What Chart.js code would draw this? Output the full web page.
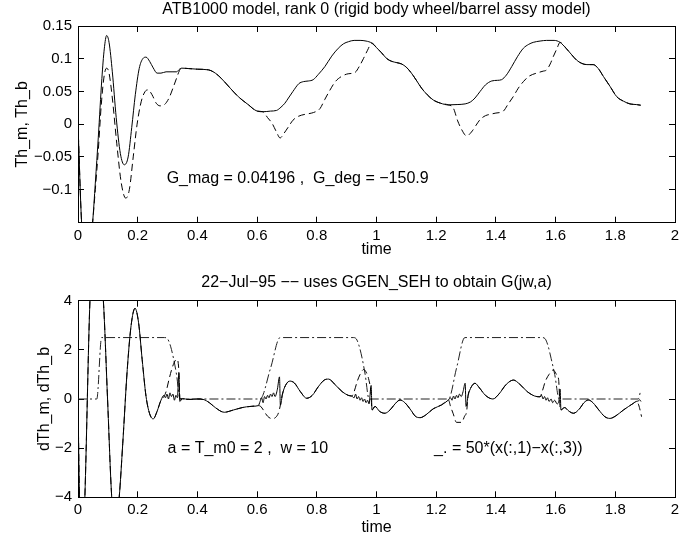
<!DOCTYPE html>
<html><head><meta charset="utf-8">
<script src="https://cdn.jsdelivr.net/npm/chart.js@4.4.0/dist/chart.umd.min.js"></script>
<style>
html,body{margin:0;padding:0;background:#fff;}
#wrap{position:relative;width:699px;height:539px;background:#fff;overflow:hidden;}
.c{position:absolute;left:0;width:699px;}
canvas{display:block;}
</style></head><body>
<div id="wrap">
<div class="c" style="top:0;height:268px"><canvas id="c1" width="699" height="268" style="width:699px;height:268px"></canvas></div>
<div class="c" style="top:268px;height:271px"><canvas id="c2" width="699" height="271" style="width:699px;height:271px"></canvas></div>
</div>
<script>
// ---------- Top panel: Th_m (solid), Th_b (dashed) ----------
const tThm = [0,0.012,0.025,0.038,0.049,0.058,0.068,0.08,0.088,0.096,
  0.104,0.115,0.128,0.142,0.155,0.168,0.18,0.192,0.205,0.217,
  0.228,0.24,0.252,0.265,0.278,0.295,0.315,0.33,0.34,0.347,
  0.37,0.4,0.437,0.46,0.48,0.51,0.537,0.57,0.6,0.62,
  0.645,0.665,0.68,0.693,0.705,0.72,0.74,0.755,0.772,0.788,
  0.805,0.827,0.85,0.872,0.89,0.906,0.925,0.945,0.965,0.984,
  1.0,1.017,1.035,1.051,1.068,1.084,1.1,1.117,1.135,1.151,
  1.17,1.19,1.215,1.24,1.27,1.297,1.315,1.33,1.347,1.365,
  1.386,1.405,1.419,1.435,1.453,1.472,1.492,1.51,1.525,1.548,
  1.57,1.595,1.615,1.635,1.654,1.67,1.687,1.705,1.726,1.743,
  1.76,1.782,1.805,1.828,1.849,1.87,1.885];
const Th_m = [0,-0.15,-0.21,-0.2,-0.15,-0.09,-0.02,0.07,0.115,0.1355,
  0.125,0.08,0.01,-0.045,-0.062,-0.05,-0.005,0.045,0.085,0.1,
  0.1024,0.096,0.086,0.078,0.078,0.08,0.08,0.08,0.084,0.0856,
  0.085,0.084,0.083,0.078,0.07,0.055,0.042,0.03,0.02,0.019,
  0.02,0.021,0.026,0.032,0.04,0.05,0.062,0.065,0.066,0.068,
  0.076,0.088,0.104,0.116,0.123,0.126,0.128,0.128,0.127,0.124,
  0.117,0.109,0.1,0.096,0.094,0.092,0.087,0.078,0.066,0.055,
  0.045,0.037,0.032,0.0295,0.03,0.031,0.034,0.04,0.05,0.06,
  0.066,0.067,0.068,0.075,0.088,0.103,0.116,0.122,0.125,0.127,
  0.128,0.128,0.125,0.116,0.106,0.098,0.093,0.091,0.091,0.085,
  0.073,0.058,0.042,0.035,0.031,0.03,0.029];

const tThb = [0,0.012,0.025,0.038,0.049,0.058,0.068,0.078,0.088,0.096,
  0.104,0.115,0.13,0.145,0.16,0.172,0.185,0.198,0.212,0.225,
  0.235,0.248,0.262,0.275,0.29,0.305,0.318,0.33,0.34,0.347,
  0.37,0.4,0.437,0.46,0.48,0.51,0.537,0.57,0.6,0.62,
  0.635,0.65,0.665,0.677,0.69,0.705,0.72,0.738,0.76,0.783,
  0.8,0.811,0.827,0.844,0.862,0.883,0.905,0.928,0.942,0.956,
  0.97,0.984,1.0,1.017,1.035,1.051,1.068,1.084,1.1,1.117,
  1.135,1.151,1.17,1.19,1.215,1.24,1.257,1.272,1.285,1.302,
  1.318,1.333,1.347,1.365,1.38,1.4,1.425,1.44,1.458,1.475,
  1.492,1.51,1.536,1.558,1.57,1.582,1.592,1.604,1.615,1.635,
  1.654,1.67,1.687,1.705,1.726,1.743,1.76,1.782,1.805,1.828,
  1.849,1.87,1.885];
const Th_b = [0,-0.15,-0.21,-0.2,-0.15,-0.1,-0.04,0.03,0.075,0.0856,
  0.078,0.04,-0.03,-0.09,-0.113,-0.1,-0.05,0.0,0.035,0.05,
  0.0524,0.045,0.032,0.028,0.03,0.04,0.055,0.07,0.082,0.0856,
  0.085,0.084,0.083,0.078,0.07,0.055,0.042,0.03,0.02,0.019,
  0.01,0.0015,-0.012,-0.021,-0.014,-0.004,0.006,0.012,0.015,0.017,
  0.02,0.024,0.038,0.052,0.065,0.073,0.077,0.079,0.088,0.1,
  0.113,0.124,0.117,0.109,0.1,0.096,0.094,0.092,0.087,0.078,
  0.066,0.055,0.045,0.037,0.032,0.0295,0.025,0.005,-0.008,-0.018,
  -0.012,-0.002,0.007,0.013,0.015,0.017,0.02,0.03,0.042,0.055,
  0.065,0.073,0.078,0.081,0.083,0.092,0.103,0.115,0.125,0.116,
  0.106,0.098,0.093,0.091,0.091,0.085,0.073,0.058,0.042,0.035,
  0.031,0.03,0.029];

// ---------- Bottom panel: dTh_m (solid), dTh_b (dashed), 50*(x1-x3) (dash-dot) ----------
const tdThm = [0,0.005,0.012,0.018,0.023,0.04,0.05,0.068,0.085,0.099,
  0.113,0.125,0.138,0.15,0.165,0.178,0.191,0.203,0.215,0.228,
  0.24,0.252,0.265,0.278,0.288,0.293,0.298,0.303,0.308,0.313,
  0.318,0.323,0.328,0.333,0.338,0.341,0.35,0.37,0.4,0.42,
  0.44,0.46,0.49,0.52,0.55,0.58,0.604,0.61,0.615,0.62,
  0.625,0.63,0.635,0.64,0.645,0.65,0.655,0.66,0.668,0.675,
  0.678,0.685,0.695,0.71,0.725,0.745,0.766,0.785,0.805,0.825,
  0.84,0.86,0.885,0.905,0.917,0.925,0.93,0.935,0.94,0.945,
  0.95,0.955,0.96,0.965,0.97,0.975,0.982,0.985,0.995,1.01,
  1.028,1.045,1.062,1.079,1.095,1.115,1.13,1.146,1.165,1.19,
  1.218,1.241,1.248,1.253,1.258,1.263,1.268,1.273,1.278,1.284,
  1.29,1.297,1.3,1.307,1.318,1.33,1.345,1.365,1.39,1.41,
  1.435,1.459,1.48,1.505,1.53,1.548,1.553,1.558,1.563,1.568,
  1.573,1.578,1.585,1.59,1.597,1.605,1.612,1.615,1.618,1.63,
  1.645,1.66,1.68,1.695,1.71,1.725,1.745,1.765,1.782,1.8,
  1.827,1.845,1.86,1.87,1.877,1.882,1.886];
const dTh_m = [0,-4,-5.5,-5.5,-4,4,5.8,6,4,0,
  -4,-5.2,-4,-1.8,1.2,3.0,3.69,3.1,1.6,0.1,
  -0.6,-0.81,-0.5,-0.05,0.15,0.05,0.2,0.0,0.25,0.1,
  0.2,-0.05,0.15,0.05,1.05,-0.1,0.02,-0.02,0,-0.02,
  -0.15,-0.35,-0.54,-0.45,-0.35,-0.3,-0.27,-0.1,0.05,-0.15,
  0.1,0.0,0.15,0.05,0.2,0.1,0.25,0.1,0.4,0.9,
  -0.25,0.2,0.55,0.73,0.65,0.3,0.03,0.15,0.5,0.77,
  0.81,0.6,0.3,0.15,0.12,0.05,0.2,0.0,0.1,-0.05,
  0.05,-0.1,0.0,-0.15,-0.05,-0.2,0.55,-0.45,-0.3,-0.5,
  -0.58,-0.45,-0.2,-0.04,-0.15,-0.45,-0.7,-0.76,-0.65,-0.4,
  -0.24,-0.04,0.05,-0.05,0.12,0.0,0.15,0.05,0.2,0.1,
  0.3,0.64,-0.3,0.15,0.5,0.64,0.45,0.15,0.0,0.2,
  0.6,0.77,0.6,0.3,0.12,0.09,0.15,0.0,0.1,-0.05,
  0.05,-0.1,0.0,-0.15,-0.05,-0.2,0.0,0.4,-0.45,-0.35,
  -0.5,-0.58,-0.4,-0.15,-0.04,-0.15,-0.45,-0.72,-0.79,-0.7,
  -0.45,-0.3,-0.18,-0.1,-0.08,-0.03,-0.1];

const tdThb = [0,0.005,0.012,0.018,0.023,0.04,0.05,0.068,0.085,0.099,
  0.113,0.125,0.138,0.15,0.165,0.178,0.191,0.203,0.215,0.228,
  0.24,0.252,0.265,0.278,0.288,0.295,0.305,0.315,0.325,0.332,
  0.337,0.342,0.35,0.37,0.4,0.42,0.44,0.46,0.49,0.52,
  0.55,0.58,0.604,0.612,0.621,0.635,0.65,0.662,0.672,0.678,
  0.685,0.695,0.71,0.725,0.745,0.766,0.785,0.805,0.825,0.84,
  0.86,0.885,0.905,0.917,0.925,0.935,0.945,0.957,0.967,0.975,
  0.981,0.985,0.995,1.01,1.028,1.045,1.062,1.079,1.095,1.115,
  1.13,1.146,1.165,1.19,1.218,1.241,1.248,1.257,1.268,1.285,
  1.295,1.302,1.307,1.318,1.33,1.345,1.365,1.39,1.41,1.435,
  1.459,1.48,1.505,1.53,1.548,1.555,1.565,1.578,1.592,1.603,
  1.61,1.616,1.63,1.645,1.66,1.68,1.695,1.71,1.725,1.745,
  1.765,1.782,1.8,1.827,1.845,1.86,1.87,1.877,1.882,1.888];
const dTh_b = [0,-4,-5.5,-5.5,-4,4,5.8,6,4,0,
  -4,-5.2,-4,-1.8,1.2,3.0,3.69,3.1,1.6,0.1,
  -0.6,-0.81,-0.5,-0.05,0.1,0.3,0.8,1.25,1.55,1.62,
  1.3,0.0,0.02,-0.02,0,-0.02,-0.15,-0.35,-0.54,-0.45,
  -0.35,-0.3,-0.27,-0.3,-0.45,-0.7,-0.8,-0.75,-0.55,-0.25,
  0.2,0.55,0.73,0.65,0.3,0.03,0.15,0.5,0.77,0.81,
  0.6,0.3,0.15,0.12,0.3,0.7,1.0,1.2,1.05,0.75,
  0.3,-0.45,-0.3,-0.5,-0.58,-0.45,-0.2,-0.04,-0.15,-0.45,
  -0.7,-0.76,-0.65,-0.4,-0.24,-0.04,-0.3,-0.6,-0.95,-0.95,
  -0.7,-0.5,0.15,0.5,0.64,0.45,0.15,0.0,0.2,0.6,
  0.77,0.6,0.3,0.12,0.09,0.3,0.7,1.0,1.18,1.0,
  0.8,-0.45,-0.35,-0.5,-0.58,-0.4,-0.15,-0.04,-0.15,-0.45,
  -0.72,-0.79,-0.7,-0.45,-0.3,-0.18,-0.1,-0.2,-0.4,-0.72];

const tDiff = [0,0.063,0.079,0.29,0.3,0.31,0.32,0.33,0.342,0.61,
  0.645,0.677,0.922,0.932,0.942,0.952,0.962,0.975,1.241,1.268,
  1.296,1.555,1.565,1.575,1.585,1.597,1.612,1.877,1.885];
const diff50 = [0,0,2.5,2.5,2.45,2.15,1.65,1.0,0,0,
  1.25,2.5,2.5,2.45,2.15,1.65,1.0,0,0,1.25,
  2.5,2.5,2.45,2.15,1.65,1.0,0,0,0.35];

// ---------- ticks & text ----------
const xTicks = [0,0.2,0.4,0.6,0.8,1,1.2,1.4,1.6,1.8,2];
const yTicksTop = [-0.1,-0.05,0,0.05,0.1,0.15];
const yTicksBot = [-4,-2,0,2,4];
const titleTop = "ATB1000 model, rank 0 (rigid body wheel/barrel assy model)";
const titleBot = "22\u2212Jul\u221295 \u2212\u2212 uses GGEN_SEH to obtain G(jw,a)";
const notesTop = [{x:0.297, y:-0.083, text:"G_mag = 0.04196 ,  G_deg = \u2212150.9"}];
const notesBot = [{x:0.3, y:-2.0, text:"a = T_m0 = 2 ,  w = 10"},
                  {x:1.193, y:-2.0, text:"_. = 50*(x(:,1)\u2212x(:,3))"}];

const FAM = "'Liberation Sans', Arial, Helvetica, sans-serif";
Chart.defaults.font.family = FAM;
Chart.defaults.color = '#000';

function pts(t, v){ return t.map((tt,i)=>({x:tt, y:v[i]})); }
function fmt(v){ const s = String(Math.round(v*1000)/1000); return s.replace('-', '\u2212'); }

// titles and text annotations (placed through the scales)
function makeText(title, titleY, notes){
  return {
    id: 'texts',
    afterDraw(chart){
      const ctx = chart.ctx, x = chart.scales.x, y = chart.scales.y;
      ctx.save();
      ctx.fillStyle = '#000';
      ctx.font = '16px ' + FAM;
      ctx.textBaseline = 'middle';
      ctx.textAlign = 'center';
      ctx.fillText(title, (x.left + x.right)/2, titleY);
      ctx.textAlign = 'left';
      notes.forEach(n=>{ ctx.fillText(n.text, x.getPixelForValue(n.x), y.getPixelForValue(n.y)); });
      ctx.restore();
    }
  };
}

// axis box: native Chart.js borders on all four sides, ticks pointing inward (negative tick length)
const boxGrid = { display: true, drawOnChartArea: false, drawTicks: true, tickLength: -6, color: '#000', lineWidth: 1 };
const boxBorder = { display: true, color: '#000', width: 1 };

function makeChart(id, datasets, ymin, ymax, yt, ytitle, ytitlePad, xHeight, xtitlePad, topPad, textPlugin){
  return new Chart(document.getElementById(id), {
    type: 'line',
    data: { datasets },
    options: {
      responsive: false, animation: false, devicePixelRatio: 1,
      layout: { padding: { left: 0, right: 24, top: topPad, bottom: 0 } },
      plugins: { legend: { display: false }, tooltip: { enabled: false }, title: { display: false } },
      elements: { point: { radius: 0 }, line: { borderWidth: 1, cubicInterpolationMode: 'monotone' } },
      scales: {
        x: { type: 'linear', position: 'bottom', min: 0, max: 2,
          grid: boxGrid, border: boxBorder,
          afterBuildTicks: s => { s.ticks = xTicks.map(v=>({value:v})); },
          afterFit: s => { s.height = xHeight; },
          ticks: { padding: 10, font: { size: 15 }, color: '#000', maxRotation: 0, autoSkip: false, callback: v => fmt(v) },
          title: { display: true, text: 'time', font: { size: 16 }, color: '#000', padding: { top: 0, bottom: xtitlePad } } },
        x2: { type: 'linear', position: 'top', min: 0, max: 2,
          grid: boxGrid, border: boxBorder,
          afterBuildTicks: s => { s.ticks = xTicks.map(v=>({value:v})); },
          afterFit: s => { s.height = 0; },
          ticks: { display: false } },
        y: { type: 'linear', position: 'left', min: ymin, max: ymax,
          grid: boxGrid, border: boxBorder,
          afterBuildTicks: s => { s.ticks = yt.map(v=>({value:v})); },
          afterFit: s => { s.width = 78; },
          ticks: { padding: 12, font: { size: 15 }, color: '#000', autoSkip: false, callback: v => fmt(v) },
          title: { display: true, text: ytitle, font: { size: 16 }, color: '#000', padding: { top: ytitlePad, bottom: 0 } } },
        y2: { type: 'linear', position: 'right', min: ymin, max: ymax,
          grid: boxGrid, border: boxBorder,
          afterBuildTicks: s => { s.ticks = yt.map(v=>({value:v})); },
          afterFit: s => { s.width = 0; },
          ticks: { display: false } }
      }
    },
    plugins: [textPlugin]
  });
}

makeChart('c1', [
  { data: pts(tThm, Th_m), borderColor: '#000', fill: false },
  { data: pts(tThb, Th_b), borderColor: '#000', borderDash: [7,4], fill: false }
], -0.1505, 0.15, yTicksTop, 'Th_m, Th_b', 13.4, 45.3, 8.4, 26,
  makeText(titleTop, 10, notesTop));

makeChart('c2', [
  { data: pts(tdThm, dTh_m), borderColor: '#000', fill: false },
  { data: pts(tdThb, dTh_b), borderColor: '#000', borderDash: [7,4], fill: false },
  { data: pts(tDiff, diff50), borderColor: '#222', borderDash: [9,3,2,3], fill: false }
], -4, 4, yTicksBot, 'dTh_m, dTh_b', 35.4, 41.7, 1.4, 32.7,
  makeText(titleBot, 15, notesBot));
</script>
</body></html>
